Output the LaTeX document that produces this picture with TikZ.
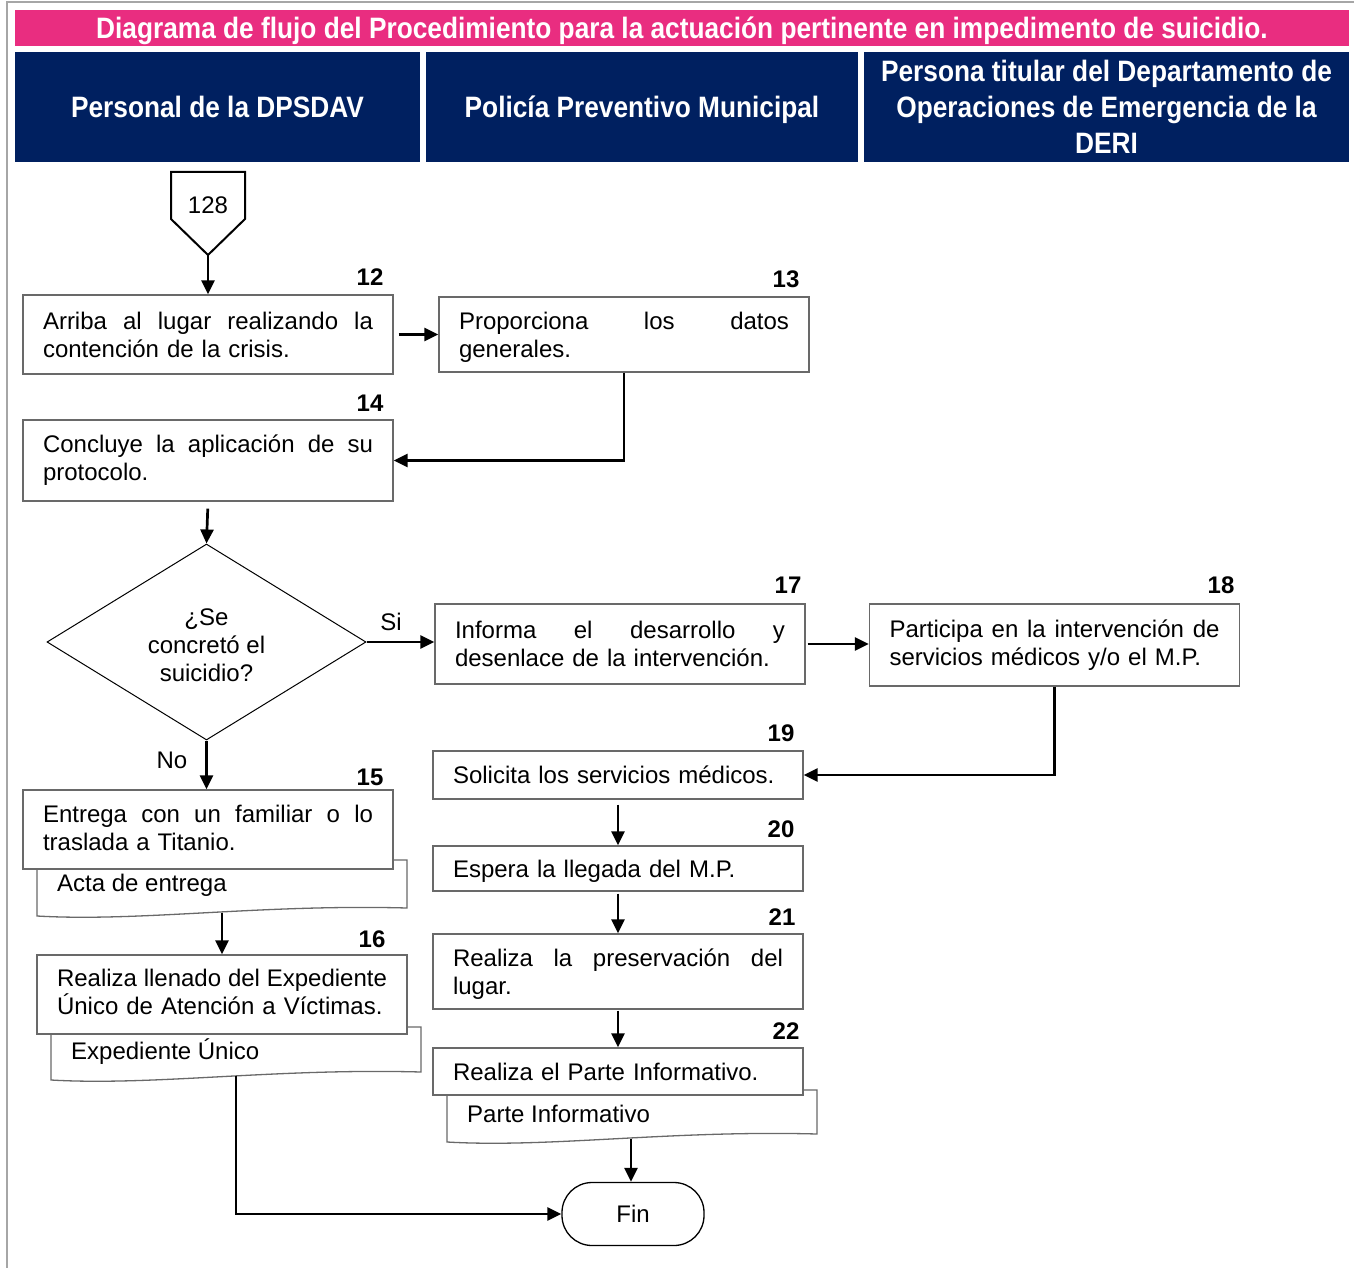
\documentclass[tikz,border=0pt]{standalone}
\usepackage{fontspec}
\setmainfont{Liberation Sans}
\newfontfamily\hdrfont[FakeStretch=0.89]{Liberation Sans}
\usetikzlibrary{shapes.geometric,arrows.meta,calc}
\definecolor{titlepink}{RGB}{233,45,128}
\definecolor{lanenavy}{RGB}{0,32,96}
\definecolor{boxline}{RGB}{105,105,105}
\definecolor{framegray}{RGB}{166,166,166}
% a full-width justified line: interword spaces stretch to fill the box
\newcommand\jline[1]{\hbox to 330pt{\spaceskip=0.278em plus 1fil minus 0.05em\relax #1}}
% a last line whose descenders do not count in the box depth
\newcommand\nodepth[1]{\raisebox{0pt}[\height][0pt]{#1}}
\begin{document}
\begin{tikzpicture}[x=1pt,y=-1pt,
  body/.style={font=\fontsize{24}{28}\selectfont},
  lane/.style={fill=lanenavy,text=white,align=center,inner sep=0pt,text depth=0pt,
    font=\hdrfont\bfseries\fontsize{29.5}{36}\selectfont},
  proc/.style={draw=boxline,line width=1.3pt,fill=white,inner sep=0pt,
    text width=330pt,align=left,minimum width=370pt,body},
  num/.style={inner sep=0pt,font=\bfseries\fontsize{24}{28}\selectfont},
  doctext/.style={anchor=west,inner sep=0pt,body},
  docsheet/.style={draw=boxline,line width=1.3pt,fill=white},
  flow/.style={line width=2.7pt,-{Triangle[length=14pt,width=13pt]}},
  lbl/.style={inner sep=0pt,body}]
\useasboundingbox (0,0) rectangle (1354,1268);

% page frame
\draw[framegray,line width=2pt] (7,1268) -- (7,2) -- (1354,2);

% title and swimlane headers
\node[lane,fill=titlepink,minimum width=1334pt,minimum height=36pt] (title) at (682,28)
  {Diagrama de flujo del Procedimiento para la actuación pertinente en impedimento de suicidio.};
\node[lane,minimum width=405pt,minimum height=110pt] (lane1) at (217.5,107) {Personal de la DPSDAV};
\node[lane,minimum width=432pt,minimum height=110pt] (lane2) at (642,107) {Policía Preventivo Municipal};
\node[lane,minimum width=485pt,minimum height=110pt] (lane3) at (1106.5,107)
  {Persona titular del Departamento de\\Operaciones de Emergencia de la\\DERI};

% off-page connector
\draw[line width=2pt,line join=miter] (171,172) -- (245,172) -- (245,219) -- (208,255)
  coordinate (c128tip) -- (171,219) -- cycle;
\node[lbl] (c128) at (208,205) {128};

% document sheets (drawn first so the process boxes cover their tops)
\draw[docsheet] (37,860) -- (407,860) -- (407,908)
  .. controls (260,904) and (140,922) .. (37,916) -- cycle;
\draw[docsheet] (51,1027) -- (421,1027) -- (421,1072)
  .. controls (274,1068) and (154,1086) .. (51,1080) -- cycle;
\draw[docsheet] (447,1090) -- (817,1090) -- (817,1134)
  .. controls (670,1130) and (550,1148) .. (447,1142) -- cycle;
\node[doctext] (d15t) at (57,885) {Acta de entrega};
\node[doctext] (d16t) at (71,1052) {Expediente Único};
\node[doctext] (d22t) at (467,1114) {Parte Informativo};
\coordinate (d15b) at (222,913);
\coordinate (d16b) at (236,1076);
\coordinate (d22b) at (631,1139);

% process boxes
\node[proc,minimum height=79pt] (b12) at (208,334.5)
  {\jline{Arriba al lugar realizando la}\\contención de la crisis.};
\node[proc,minimum height=75pt] (b13) at (624,334.5)
  {\jline{Proporciona los datos}\\\nodepth{generales.}};
\node[proc,minimum height=81pt] (b14) at (208,460.5)
  {\jline{Concluye la aplicación de su}\\protocolo.};
\node[draw,shape=diamond,line width=1pt,inner sep=0pt,aspect=1.63,
  minimum width=319pt,minimum height=196pt] (dec) at (206.5,642) {};
\node[lbl,align=center] (dect) at (206.5,645) {¿Se\\concretó el\\suicidio?};
\node[proc,minimum height=80pt] (b17) at (620,644)
  {\jline{Informa el desarrollo y}\\desenlace de la intervención.};
\node[proc,minimum height=82pt] (b18) at (1054.5,645)
  {\jline{Participa en la intervención de}\\servicios médicos y/o el M.P.};
\node[proc,minimum height=79pt] (b15) at (208,829.5)
  {\jline{Entrega con un familiar o lo}\\traslada a Titanio.\rule[-4pt]{0pt}{0pt}};
\node[proc,minimum height=79pt] (b16) at (222,994.5)
  {\jline{Realiza llenado del Expediente}\\Único de Atención a Víctimas.\rule[-6pt]{0pt}{0pt}};
\node[proc,minimum height=48pt] (b19) at (618,775) {Solicita los servicios médicos.};
\node[proc,minimum height=45pt,text depth=0pt] (b20) at (618,868.5) {Espera la llegada del M.P.};
\node[proc,minimum height=75pt] (b21) at (618,971.5)
  {\jline{Realiza la preservación del}\\\nodepth{lugar.}};
\node[proc,minimum height=47pt] (b22) at (618,1071.5) {Realiza el Parte Informativo.};
\node[draw,line width=1.3pt,rounded corners=30pt,minimum width=142pt,minimum height=63pt,
  inner sep=0pt,body] (fin) at (633,1214) {Fin};

% step numbers
\node[num] (n12) at (370,277) {12};
\node[num] (n13) at (786,279) {13};
\node[num] (n14) at (370,403) {14};
\node[num] (n17) at (788,585) {17};
\node[num] (n18) at (1221,585) {18};
\node[num] (n15) at (370,777) {15};
\node[num] (n16) at (372,939) {16};
\node[num] (n19) at (781,733) {19};
\node[num] (n20) at (781,829) {20};
\node[num] (n21) at (782,917) {21};
\node[num] (n22) at (786,1031) {22};

% connectors
\draw[flow] (c128tip) -- (b12.north);
\draw[flow,shorten <=5pt] (b12.east) -- (b13.west);
\draw[flow] (b13.south) |- (b14.east);
\draw[flow,shorten <=7pt] (b14.south) -- (dec.north);
\draw[flow] (dec.east) -- (dec.east -| b17.west);
\node[lbl] (si) at (391,622) {Si};
\draw[flow] (dec.south) -- (dec.south |- b15.north);
\node[lbl] (no) at (172,760) {No};
\draw[flow,shorten <=2pt] (b17.east) -- (b17.east -| b18.west);
\draw[flow] (b18.south) |- (b19.east);
\draw[flow,shorten <=5pt] (b19.south) -- (b20.north);
\draw[flow,shorten <=2pt] (b20.south) -- (b21.north);
\draw[flow,shorten <=1pt] (b21.south) -- (b22.north);
\draw[flow] (d15b) -- (d15b |- b16.north);
\draw[flow] (d22b) -- (d22b |- fin.north);
\draw[flow] (d16b) |- (fin.west);
\end{tikzpicture}
\end{document}
